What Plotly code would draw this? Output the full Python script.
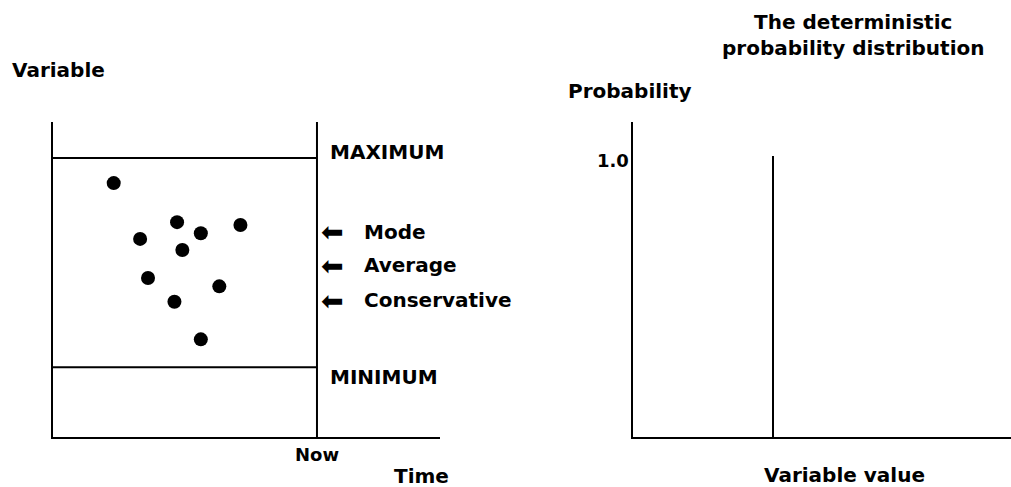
import plotly.graph_objects as go

W, H = 1011, 487
FONT = "DejaVu Sans"

# ---- Left panel data (schematic units) ----
time_now = 100
var_max = 100
var_min = 25
obs_time = [23, 47, 71, 33, 56, 49, 36, 63, 46, 56]
obs_value = [91, 77, 76, 71, 73, 67, 57, 54, 48.5, 35]
marker_labels = ["Mode", "Average", "Conservative"]
marker_levels = [73.5, 61.6, 49.1]
left_x_range = [0, 146.6]
left_y_range = [0, 112.9]

# ---- Right panel data ----
det_value = 50
det_prob = 1.0
right_x_range = [0, 135]
right_y_range = [0, 1.121]

fig = go.Figure()

line_style = dict(color="black", width=2)

# MAX / MIN horizontal lines
fig.add_trace(go.Scatter(x=[0, time_now], y=[var_max, var_max], mode="lines",
                         line=line_style, xaxis="x", yaxis="y", hoverinfo="skip"))
fig.add_trace(go.Scatter(x=[0, time_now], y=[var_min, var_min], mode="lines",
                         line=line_style, xaxis="x", yaxis="y", hoverinfo="skip"))
# Now vertical line
fig.add_trace(go.Scatter(x=[time_now, time_now], y=left_y_range, mode="lines",
                         line=line_style, xaxis="x", yaxis="y", hoverinfo="skip",
                         cliponaxis=False))
# Observations
fig.add_trace(go.Scatter(x=obs_time, y=obs_value, mode="markers",
                         marker=dict(color="black", size=14),
                         xaxis="x", yaxis="y"))
# Deterministic spike
fig.add_trace(go.Scatter(x=[det_value, det_value], y=[0, det_prob], mode="lines",
                         line=line_style, xaxis="x2", yaxis="y2", hoverinfo="skip"))

ydom = [50 / H, 365 / H]
axis_common = dict(showgrid=False, zeroline=False, showline=True,
                   linecolor="black", linewidth=2, ticks="",
                   tickfont=dict(family=FONT, size=18, color="black", weight="bold"))

fig.update_layout(
    width=W, height=H,
    margin=dict(l=0, r=0, t=0, b=0),
    paper_bgcolor="white", plot_bgcolor="white",
    showlegend=False,
    xaxis=dict(domain=[53 / W, 440 / W], range=left_x_range,
               tickvals=[time_now], ticktext=["Now"], anchor="y", **axis_common),
    yaxis=dict(domain=ydom, range=left_y_range, showticklabels=False,
               anchor="x", **axis_common),
    xaxis2=dict(domain=[633 / W, 1.0], range=right_x_range, showticklabels=False,
                anchor="y2", **axis_common),
    yaxis2=dict(domain=ydom, range=right_y_range, showticklabels=False,
                anchor="x2", **axis_common),
)

tfont = dict(family=FONT, size=20, color="black", weight="bold")
ann = []

def txt(text, x, y, xanchor="center", yanchor="middle", **kw):
    ann.append(dict(text=text, x=x / W, y=1 - y / H, xref="paper", yref="paper",
                    xanchor=xanchor, yanchor=yanchor, showarrow=False,
                    font=tfont, **kw))

txt("Variable", 10, 70, xanchor="left")
txt("Time", 421, 476)
txt("Probability", 566, 91, xanchor="left")
txt("The deterministic<br>probability distribution", 853, 35)
txt("Variable value", 844, 475)

# "1.0" label on the probability axis
ann.append(dict(text="1.0", x=0, y=det_prob, xref="x2 domain", yref="y2",
                xanchor="right", yanchor="middle", xshift=-2, yshift=-4,
                showarrow=False,
                font=dict(family=FONT, size=18, color="black", weight="bold")))

ann.append(dict(text="MAXIMUM", x=time_now, y=var_max, xref="x", yref="y",
                xanchor="left", yanchor="middle", xshift=11, yshift=6,
                showarrow=False, font=tfont))
ann.append(dict(text="MINIMUM", x=time_now, y=var_min, xref="x", yref="y",
                xanchor="left", yanchor="middle", xshift=11, yshift=-10,
                showarrow=False, font=tfont))

for lab, lev in zip(marker_labels, marker_levels):
    ann.append(dict(text="\u2b05", x=time_now, y=lev, xref="x", yref="y",
                    xanchor="left", yanchor="middle", xshift=2,
                    showarrow=False,
                    font=dict(family=FONT, size=27, color="black")))
    ann.append(dict(text=lab, x=time_now, y=lev, xref="x", yref="y",
                    xanchor="left", yanchor="middle", xshift=45,
                    showarrow=False, font=tfont))

fig.update_layout(annotations=ann)
fig.write_html("out.html",
               config={"displayModeBar": False},
               post_script="document.body.style.margin='0';"
                           "document.body.style.overflow='hidden';")
